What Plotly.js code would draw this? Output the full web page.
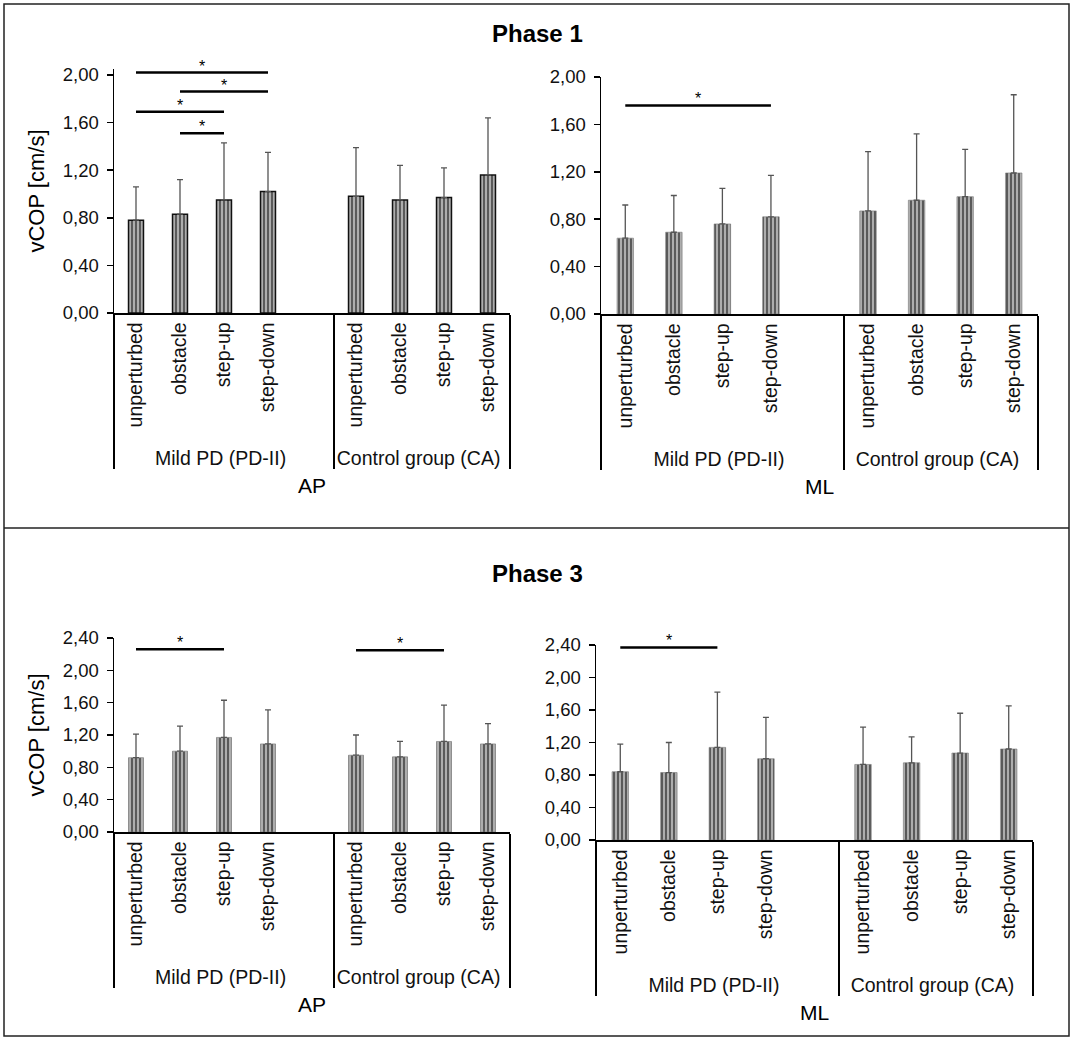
<!DOCTYPE html>
<html>
<head>
<meta charset="utf-8">
<script src="https://cdn.plot.ly/plotly-3.0.1.min.js"></script>
<style>
  html, body { margin: 0; padding: 0; background: #fff; }
  #chart { width: 1074px; height: 1043px; }
</style>
</head>
<body>
<div id="chart"></div>
<script>
// groups and conditions
var groups = ['Mild PD (PD-II)', 'Control group (CA)'];
var conditions = ['unperturbed', 'obstacle', 'step-up', 'step-down'];

// Phase 1 means / SD (PD first 4, CA last 4)
var p1ApMean = [0.78, 0.83, 0.95, 1.02, 0.98, 0.95, 0.97, 1.16];
var p1ApSd   = [0.28, 0.29, 0.48, 0.33, 0.41, 0.29, 0.25, 0.48];
var p1MlMean = [0.64, 0.69, 0.76, 0.82, 0.87, 0.96, 0.99, 1.19];
var p1MlSd   = [0.28, 0.31, 0.30, 0.35, 0.50, 0.56, 0.40, 0.66];

// Phase 3
var p3ApMean = [0.92, 1.00, 1.17, 1.09, 0.95, 0.93, 1.12, 1.09];
var p3ApSd   = [0.29, 0.31, 0.46, 0.42, 0.25, 0.19, 0.45, 0.25];
var p3MlMean = [0.84, 0.83, 1.14, 1.00, 0.93, 0.95, 1.07, 1.12];
var p3MlSd   = [0.34, 0.37, 0.68, 0.51, 0.46, 0.32, 0.49, 0.53];

// significance bars: [group, from condition, to condition, height]
var p1ApSig = [[0, 0, 3, 2.02], [0, 1, 3, 1.86], [0, 0, 2, 1.69], [0, 1, 2, 1.51]];
var p1MlSig = [[0, 0, 3, 1.76]];
var p3ApSig = [[0, 0, 2, 2.26], [1, 0, 2, 2.25]];
var p3MlSig = [[0, 0, 2, 2.37]];

var yTicks1 = [0, 0.4, 0.8, 1.2, 1.6, 2.0];
var yTicks3 = [0, 0.4, 0.8, 1.2, 1.6, 2.0, 2.4];

var W = 1074, H = 1043;
function fx(p) { return p / W; }
function fy(p) { return 1 - p / H; }

var FONT = 'Liberation Sans, Arial, sans-serif';

// x categories: PD has a blank fifth slot like the original sheet
var xTop = [], xBot = [];
conditions.forEach(function(c) { xTop.push(groups[0]); xBot.push(c); });
xTop.push(groups[0]); xBot.push(' ');
conditions.forEach(function(c) { xTop.push(groups[1]); xBot.push(c); });

function withGap(arr) {
  return arr.slice(0, 4).concat([null]).concat(arr.slice(4));
}
function slot(g, i) { return g === 0 ? i : 5 + i; }

var traces = [];
var annotations = [];

function addPanel(n, mean, sd, sig, outline) {
  var xa = 'x' + (n === 1 ? '' : n), ya = 'y' + (n === 1 ? '' : n);
  traces.push({
    type: 'bar', x: [xTop, xBot], y: withGap(mean),
    xaxis: xa, yaxis: ya, width: 0.34,
    marker: {
      color: '#a0a0a0',
      line: {color: outline ? '#111' : '#777', width: outline ? 1.5 : 0.6},
      pattern: {shape: '|', fgcolor: '#505050', bgcolor: '#adadad', size: 4, solidity: 0.45}
    },
    error_y: {type: 'data', symmetric: false, array: withGap(sd),
              arrayminus: withGap(sd.map(function() { return 0; })),
              color: '#555', thickness: 1.3, width: 3},
    hoverinfo: 'skip', showlegend: false
  });
  sig.forEach(function(s) {
    var g = groups[s[0]];
    traces.push({
      type: 'scatter', mode: 'lines',
      x: [[g, g], [conditions[s[1]], conditions[s[2]]]], y: [s[3], s[3]],
      xaxis: xa, yaxis: ya,
      line: {color: '#000', width: 2.5},
      hoverinfo: 'skip', showlegend: false
    });
    annotations.push({
      xref: xa, yref: ya, x: (slot(s[0], s[1]) + slot(s[0], s[2])) / 2, y: s[3],
      text: '*', showarrow: false, yanchor: 'bottom', yshift: -4,
      font: {family: FONT, size: 16, color: '#000'}
    });
  });
}

addPanel(1, p1ApMean, p1ApSd, p1ApSig, true);
addPanel(2, p1MlMean, p1MlSd, p1MlSig, false);
addPanel(3, p3ApMean, p3ApSd, p3ApSig, false);
addPanel(4, p3MlMean, p3MlSd, p3MlSig, false);

function xAxis(x0, x1, anchor, title) {
  return {
    domain: [fx(x0), fx(x1)], anchor: anchor, type: 'multicategory',
    range: [-0.5, 8.5], showline: true, linecolor: '#000', linewidth: 1.5,
    ticks: '', tickangle: -90, showgrid: false, zeroline: false,
    showdividers: true, dividercolor: '#000', dividerwidth: 1.5,
    tickfont: {family: FONT, size: 19.5, color: '#111'},
    title: {text: title, standoff: 10, font: {family: FONT, size: 21, color: '#000'}}
  };
}
function yAxis(bottom, top, maxv, anchor, ticks, title) {
  return {
    domain: [fy(bottom), fy(top)], anchor: anchor, range: [0, maxv],
    tickvals: ticks, tickformat: '.2f', ticks: 'outside', ticklen: 6,
    tickcolor: '#000', tickwidth: 1.5,
    showline: true, linecolor: '#000', linewidth: 1.5,
    showgrid: false, zeroline: false, ticklabelstandoff: 4,
    tickfont: {family: FONT, size: 18.5, color: '#111'},
    title: {text: title || '', standoff: 12, font: {family: FONT, size: 22, color: '#000'}}
  };
}

annotations.push({xref: 'paper', yref: 'paper', x: 0.5, y: fy(33), yanchor: 'middle',
  text: '<b>Phase 1</b>', showarrow: false, font: {family: FONT, size: 24, color: '#000'}});
annotations.push({xref: 'paper', yref: 'paper', x: 0.5, y: fy(573), yanchor: 'middle',
  text: '<b>Phase 3</b>', showarrow: false, font: {family: FONT, size: 24, color: '#000'}});

var layout = {
  width: W, height: H,
  margin: {l: 0, r: 0, t: 0, b: 0},
  paper_bgcolor: '#fff', plot_bgcolor: 'rgba(0,0,0,0)',
  separators: ',.',
  showlegend: false,
  bargap: 0,
  xaxis: xAxis(114, 510, 'y', 'AP'),
  yaxis: yAxis(313, 69, 2.05, 'x', yTicks1, 'vCOP [cm/s]'),
  xaxis2: xAxis(601, 1038, 'y2', 'ML'),
  yaxis2: yAxis(314, 77, 2.0, 'x2', yTicks1),
  xaxis3: xAxis(114, 510, 'y3', 'AP'),
  yaxis3: yAxis(832, 638, 2.4, 'x3', yTicks3, 'vCOP [cm/s]'),
  xaxis4: xAxis(596, 1033, 'y4', 'ML'),
  yaxis4: yAxis(840, 645, 2.4, 'x4', yTicks3),
  annotations: annotations,
  shapes: [
    {type: 'rect', xref: 'paper', yref: 'paper', x0: fx(4), x1: fx(1069), y0: fy(1036), y1: fy(4),
     line: {color: '#222', width: 1.5}},
    {type: 'line', xref: 'paper', yref: 'paper', x0: fx(4), x1: fx(1069), y0: fy(528), y1: fy(528),
     line: {color: '#222', width: 1.5}}
  ]
};

Plotly.newPlot('chart', traces, layout, {staticPlot: true});
</script>
</body>
</html>
